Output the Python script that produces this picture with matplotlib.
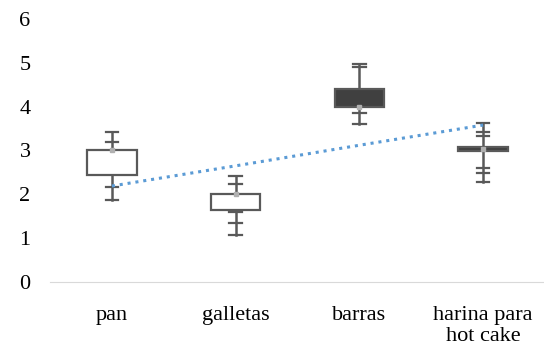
import matplotlib.pyplot as plt
from matplotlib.patches import Rectangle

plt.rcParams['font.family'] = ['Liberation Serif', 'DejaVu Serif']

categories = ['pan', 'galletas', 'barras', 'harina para\nhot cake']
box_low = [2.44, 1.64, 4.00, 2.99]
box_high = [3.01, 2.01, 4.41, 3.08]
box_fill = ['white', 'white', '#404040', '#404040']
marks = [3.01, 2.01, 4.00, 3.03]
caps = [
    [3.42, 3.20, 2.17, 1.87],
    [2.42, 2.24, 1.60, 1.35, 1.07],
    [4.98, 4.91, 3.86, 3.61],
    [3.63, 3.42, 3.33, 2.60, 2.49, 2.28],
]
trend = [2.19, 2.65, 3.12, 3.58]

line_col = '#595959'

fig = plt.figure(figsize=(5.44, 3.48), dpi=100)
ax = fig.add_axes([50 / 544, 1 - 282 / 348, 495 / 544, 263 / 348])

xs = range(1, len(categories) + 1)
for x, lo, hi, fc, mk, cc in zip(xs, box_low, box_high, box_fill, marks, caps):
    # whisker from lowest to highest tick
    ax.plot([x, x], [min(cc), max(cc)], color=line_col, lw=1.8, zorder=2)
    for c in cc:
        ax.plot([x - 0.05, x + 0.05], [c, c], color=line_col, lw=1.6, zorder=2)
    ax.add_patch(Rectangle((x - 0.2, lo), 0.4, hi - lo, facecolor=fc,
                           edgecolor=line_col, lw=1.6, zorder=3))
    ax.plot([x], [mk], marker='s', ms=3.5, color='#b0b0b0', mec='#b0b0b0', zorder=4)

ax.plot(list(xs), trend, linestyle=(0, (1, 1.6)), color='#5b9bd5', lw=2.2, zorder=5)

ax.set_xlim(0.5, 4.5)
ax.set_ylim(0, 6)
ax.set_xticks(list(xs))
ax.set_xticklabels(categories, fontsize=16, linespacing=1.15)
ax.set_yticks(range(0, 7))
ax.tick_params(axis='y', length=0, labelsize=16, pad=14)
ax.tick_params(axis='x', length=0, labelsize=16, pad=17)
for s in ['top', 'right', 'left']:
    ax.spines[s].set_visible(False)
ax.spines['bottom'].set_color('#d9d9d9')

plt.savefig('out.png', dpi=100)
